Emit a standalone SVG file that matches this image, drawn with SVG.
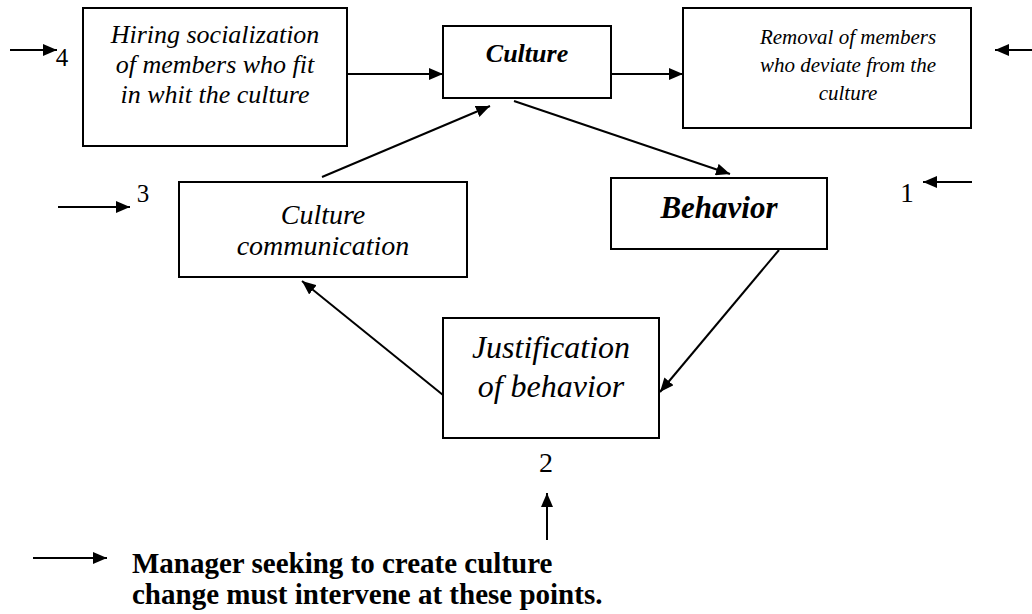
<svg xmlns="http://www.w3.org/2000/svg" width="1032" height="614" viewBox="0 0 1032 614">
<style>
.box{fill:#fff;stroke:#000;stroke-width:2}
.t{font-family:"Liberation Serif",serif;fill:#000;text-anchor:middle}
.i{font-style:italic}
.b{font-weight:bold}
.ln{stroke:#000;stroke-width:2;fill:none}
</style>
<defs>
<marker id="ah" markerUnits="userSpaceOnUse" markerWidth="14" markerHeight="12" refX="14" refY="6" orient="auto">
<path d="M0,0 L14,6 L0,12 z" fill="#000"/>
</marker>
</defs>
<rect width="1032" height="614" fill="#fff"/>
<g id="connectors">
<line class="ln" x1="347" y1="74" x2="443" y2="74" marker-end="url(#ah)"/>
<line class="ln" x1="611" y1="74" x2="683" y2="74" marker-end="url(#ah)"/>
<line class="ln" x1="514" y1="101" x2="730" y2="174" marker-end="url(#ah)"/>
<line class="ln" x1="322" y1="177" x2="490" y2="106" marker-end="url(#ah)"/>
<line class="ln" x1="779" y1="250" x2="660" y2="392" marker-end="url(#ah)"/>
<line class="ln" x1="443" y1="395" x2="302" y2="281" marker-end="url(#ah)"/>
</g>
<g id="hiring">
<rect class="box" x="83" y="8" width="264" height="138"/>
<text class="t i" x="215" y="43" font-size="26">Hiring socialization</text>
<text class="t i" x="215" y="73" font-size="26">of members who fit</text>
<text class="t i" x="215" y="103" font-size="26">in whit the culture</text>
</g>
<g id="culture">
<rect class="box" x="443" y="26" width="168" height="72"/>
<text class="t i b" x="527" y="62" font-size="26">Culture</text>
</g>
<g id="removal">
<rect class="box" x="683" y="8" width="288" height="120"/>
<text class="t i" x="848" y="44" font-size="21">Removal of members</text>
<text class="t i" x="848" y="72" font-size="21">who deviate from the</text>
<text class="t i" x="848" y="100" font-size="21">culture</text>
</g>
<g id="behavior">
<rect class="box" x="611" y="178" width="216" height="71"/>
<text class="t i b" x="719" y="218" font-size="31">Behavior</text>
</g>
<g id="communication">
<rect class="box" x="179" y="182" width="288" height="95"/>
<text class="t i" x="323" y="224" font-size="28">Culture</text>
<text class="t i" x="323" y="255" font-size="28">communication</text>
</g>
<g id="justification">
<rect class="box" x="443" y="318" width="216" height="120"/>
<text class="t i" x="551" y="358" font-size="32">Justification</text>
<text class="t i" x="551" y="397" font-size="32">of behavior</text>
</g>
<g id="markers">
<line class="ln" x1="10" y1="50" x2="57" y2="50" marker-end="url(#ah)"/>
<text class="t" x="62" y="66" font-size="25">4</text>
<line class="ln" x1="1032" y1="50" x2="995" y2="50" marker-end="url(#ah)"/>
<line class="ln" x1="58" y1="207" x2="130" y2="207" marker-end="url(#ah)"/>
<text class="t" x="143" y="202" font-size="25">3</text>
<line class="ln" x1="972" y1="182" x2="923" y2="182" marker-end="url(#ah)"/>
<text class="t" x="907" y="202" font-size="27">1</text>
<text class="t" x="546" y="472" font-size="28">2</text>
<line class="ln" x1="547" y1="540" x2="547" y2="493" marker-end="url(#ah)"/>
</g>
<g id="legend">
<line class="ln" x1="33" y1="558" x2="107" y2="558" marker-end="url(#ah)"/>
<text class="t b" x="132" y="573" font-size="29" style="text-anchor:start">Manager seeking to create culture</text>
<text class="t b" x="132" y="604" font-size="29" style="text-anchor:start">change must intervene at these points.</text>
</g>
</svg>
